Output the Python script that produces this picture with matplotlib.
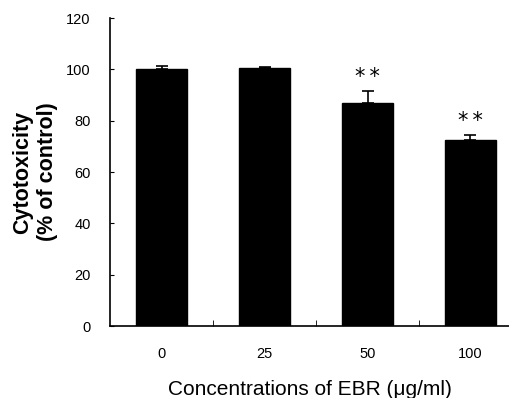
import matplotlib.pyplot as plt

plt.rcParams['font.family'] = ['Liberation Sans', 'DejaVu Sans']

concentrations = ['0', '25', '50', '100']
cytotoxicity = [100.2, 100.7, 87.0, 72.3]
errors = [1.0, 0.4, 4.6, 2.0]
signif = ['', '', '**', '**']

fig = plt.figure(figsize=(5.10, 3.98), dpi=100)
ax = fig.add_axes([110/510, 72/398, 400/510, 308/398])

x = list(range(len(concentrations)))
ax.bar(x, cytotoxicity, width=0.5, color='black', edgecolor='black')
ax.errorbar(x, cytotoxicity, yerr=[[0]*len(errors), errors], fmt='none',
            ecolor='black', elinewidth=1.2, capsize=4, capthick=1.2)

for xi, v, e, s in zip(x, cytotoxicity, errors, signif):
    if s:
        ax.text(xi, v + e + 1.5, '\u2009'.join(s), ha='center', va='bottom',
                fontsize=15, family='DejaVu Sans')

ax.set_xlim(-0.5, -0.5 + 400/103)
ax.set_ylim(0, 120)
ax.set_yticks(range(0, 121, 20))
ax.tick_params(axis='y', direction='in', length=3, labelsize=10.5, pad=14)

# category labels at centers, small inward ticks between categories
ax.set_xticks(x)
ax.set_xticklabels(concentrations, fontsize=10.5)
ax.tick_params(axis='x', which='major', length=0, pad=15)
ax.set_xticks([0.5, 1.5, 2.5], minor=True)
ax.tick_params(axis='x', which='minor', direction='in', length=4)

for side in ['top', 'right']:
    ax.spines[side].set_visible(False)
ax.spines['left'].set_linewidth(1.2)
ax.spines['bottom'].set_linewidth(1.2)

ax.set_ylabel('Cytotoxicity\n(% of control)', fontsize=15.5, fontweight='bold',
              labelpad=6, linespacing=1.2)
ax.set_xlabel('Concentrations of EBR (\u03bcg/ml)', fontsize=15, labelpad=14)

fig.savefig('out.png', dpi=100)
